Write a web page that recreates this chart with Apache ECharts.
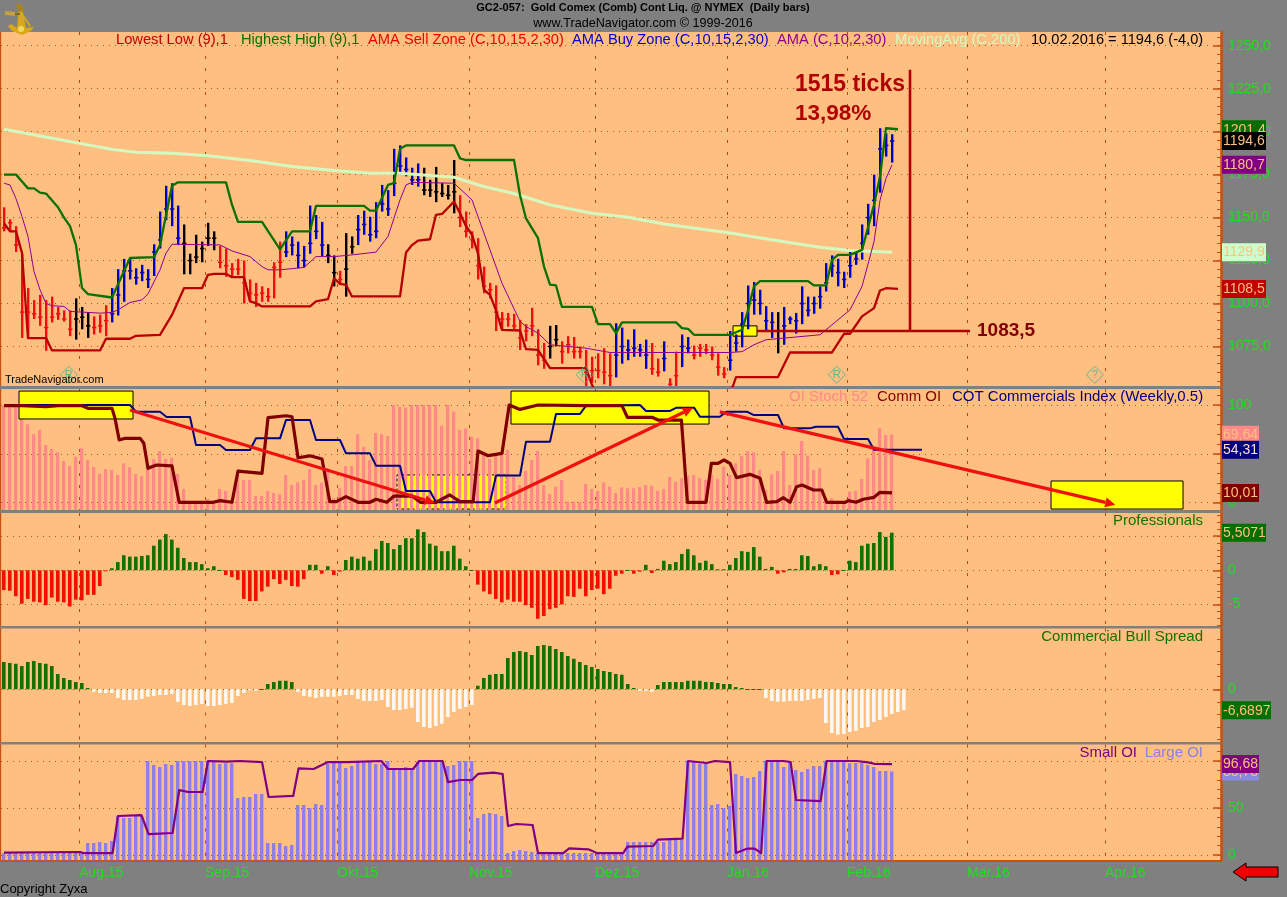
<!DOCTYPE html>
<html><head><meta charset="utf-8">
<style>html,body{margin:0;padding:0;background:#808080}#c{width:1287px;height:897px}</style>
<script src="https://cdn.jsdelivr.net/npm/echarts@6/dist/echarts.min.js"></script>
</head><body><div id="c"></div>
<script>
// ---------- values (index = trading-day number) ----------
const highs=[1156,1149,1145,1129,1109,1102,1105,1102,1104,1098,1096,1096,1103,1098,1095,1092.5,1093.5,1099,1109,1120,1126,1126,1120.5,1122.5,1120,1134.5,1153.5,1168.5,1170,1157,1146,1129,1140,1136,1147,1142,1133.5,1132,1123.5,1126,1125,1114,1112,1110,1109,1124,1136,1142,1139,1136,1133.5,1157,1151.5,1147.5,1134.5,1128,1119,1141,1139,1151.5,1154,1150.5,1159,1169,1166,1190,1192,1185,1179,1181.5,1179,1172,1179.5,1170,1169,1183.5,1163,1153.5,1142,1138,1121.5,1112,1110.5,1095,1094.5,1094,1090.5,1088,1097.5,1085,1077,1087,1087.5,1078,1081,1080.5,1075,1073,1069,1071,1074,1071,1088.5,1086,1079,1085,1076.5,1079,1077,1068,1078,1056.5,1072,1082,1080.5,1075.5,1076.5,1076.5,1075,1071,1063,1084,1082,1095,1110.5,1112.5,1108,1098.5,1095,1095,1098,1092.5,1094.5,1110,1104,1104,1110,1123.5,1128,1126,1118.5,1130,1130,1146,1158,1175,1202,1199,1198.5];
const lows=[1142,1142,1130,1080,1080,1091,1087,1072.5,1089,1090.5,1089.5,1081,1079,1085,1080,1082,1083,1081,1089,1093,1101,1114,1111,1113,1109,1116,1132,1148.5,1145,1134,1117,1117,1123.5,1124,1133.5,1131,1120.5,1115.5,1115,1116.5,1100,1101,1098,1101,1101,1103,1115,1127,1128,1120.5,1121,1129,1137.5,1127.5,1123.5,1110,1111,1104,1129,1134,1140,1136,1138,1153.5,1151,1162.5,1175,1174,1169,1168,1163,1162,1159,1162,1160.5,1152.5,1144.5,1138.5,1132,1114,1106,1103,1084,1084,1086.5,1085,1073,1078,1081,1064,1062,1068,1075,1065,1071,1068,1068,1052,1054,1056.5,1053,1052,1057,1065,1067,1069,1069,1062,1058.5,1057.5,1060.5,1052,1052,1063,1071,1067.5,1069,1070.5,1067,1058,1056.5,1061,1072,1074.5,1085,1093.5,1093.5,1084.5,1080,1071,1076,1088,1082.5,1088,1092.5,1094,1097,1107,1115.5,1110,1109,1115,1122.5,1125.5,1140,1145,1164.5,1185.5,1182];
const closes=[1144,1147,1134,1095,1095,1094,1092,1086,1092,1094,1091,1085,1091,1092,1087,1086,1087,1090,1094,1105,1119,1119,1115,1118,1114,1130,1137,1155,1155,1138,1135,1125,1127,1132,1138,1138,1124,1122,1120,1120,1112,1106,1105,1106,1104,1121,1124,1130,1134,1128,1125,1135,1142,1134,1128,1118,1114,1120,1133,1143,1146,1140,1142,1158,1155,1170,1180,1178,1172,1172,1166,1166,1165,1164,1163,1165,1150,1142,1137,1122,1110,1108,1095,1091,1091,1087,1080,1084,1087,1070,1067,1075,1079,1072,1076,1072,1072,1060,1061,1061,1060,1058,1070,1075,1073,1074,1073,1070,1062,1060,1068,1053,1058,1075,1074,1070,1074,1073,1070,1063,1059,1067,1077,1088,1100,1102,1100,1090,1089,1084,1087,1091,1090,1100,1096,1100,1104,1112,1122,1118,1114,1122,1126,1135,1150,1160,1190,1192,1194.6];
const zoneRuns=[['r',12],['k',3],['r',3],['b',12],['k',6],['r',11],['b',7],['k',2],['r',1],['k',2],['b',11],['k',6],['r',15],['k',2],['r',9],['b',6],['r',2],['b',1],['r',2],['b',2],['r',6],['b',8],['k',1],['b',19]];
const lowestLow=[[0,1146.7],[1,1142],[2,1142],[3,1129.3],[4,1079.9],[7,1079.9],[8,1072.7],[16,1072.7],[17,1079.5],[21,1079.5],[22,1081.2],[26,1081.8],[28,1093.4],[30,1108.9],[33,1108.9],[34,1116.7],[35,1117.3],[37,1117.3],[38,1115.3],[40,1115.3],[41,1101.2],[42,1100.2],[43,1098.3],[51,1098.3],[52,1101.2],[54,1102.5],[55,1114.7],[56,1111.4],[57,1110.9],[58,1104.1],[66,1104.1],[67,1129.7],[68,1134],[69,1136.6],[71,1137.4],[72,1151.6],[73,1152.1],[75,1159.3],[76,1152.5],[77,1145],[78,1140],[79,1129],[80,1108],[81,1105],[82,1096],[83,1084.7],[86,1084.3],[87,1073.5],[89,1073],[91,1062.4],[97,1062.4],[98,1052.7],[99,1045],[120,1045],[121.5,1052],[122,1057.2],[129,1057.2],[131,1071.5],[138,1071.5],[140,1082.4],[141,1082.4],[143,1092.5],[145,1097.3],[146,1107.6],[147,1108.9],[149,1108.5]];
const highestHigh=[[0,1175],[2,1175],[3,1171],[4,1167],[5,1167],[6,1164.5],[7,1164],[9,1156],[10,1150],[11,1145],[12,1134],[13,1109],[14,1105.5],[18,1103.5],[21,1126.5],[25,1127],[26,1134],[28,1168.5],[29,1170.5],[37,1170.5],[38,1157.5],[39,1147.5],[43,1147.5],[46,1131.5],[48,1142],[51,1142],[52,1156.8],[60,1156.8],[61,1154],[62,1154],[64,1169],[65,1170],[66,1190],[67,1192],[75,1192],[76,1184.5],[77,1183.5],[85,1183.5],[86,1163],[87,1149.5],[89,1138],[90,1121.5],[91,1111],[92,1110.5],[93,1098],[98,1098],[99,1088],[101,1088],[102,1082.8],[103,1089],[112,1089],[113,1085.7],[114,1085.3],[115,1081.8],[121,1081.8],[123,1084.7],[124,1096],[125,1110],[126,1113],[134,1113],[135,1110.5],[137,1110.5],[138,1125.4],[139,1128.3],[141,1128.3],[143,1131.2],[145,1157.4],[146,1173.9],[147,1202],[149,1201.4]];
const ama=[[0,1170],[1,1169],[2,1161],[3,1150.6],[4,1139],[5,1118.6],[6,1108],[7,1100],[8,1098.7],[10,1098.3],[11,1095.4],[16,1094.4],[18,1094.8],[19,1096.3],[21,1100.6],[23,1102.1],[24,1105.6],[26,1119.6],[27,1129.3],[28,1134.5],[36,1134.1],[38,1130.6],[41,1127.3],[43,1121.5],[44,1119.6],[46,1119.6],[50,1121],[52,1127.3],[55,1127.3],[58,1128.3],[62,1129.9],[64,1139],[66,1160.3],[67,1169],[68,1170.5],[75,1170],[78,1160.3],[81,1131.2],[83,1111.8],[86,1089.6],[87,1086.6],[89,1082.8],[91,1076],[97,1074],[101,1071.5],[121,1071.5],[123,1072],[125,1076],[127,1078.9],[136,1081.8],[137,1084.7],[141,1096.3],[143,1109.9],[145,1136],[146,1160],[147,1172.8],[148,1180.7]];
const movingAvg=[[0,1201.4],[18,1189.7],[22,1188],[28,1187.4],[34,1186],[41,1183.2],[48,1179.7],[56,1177.1],[61,1175.8],[66,1175.8],[75,1173.5],[80,1168],[85,1164],[91,1157.4],[98,1152.5],[104,1150.2],[110,1146.3],[121,1141],[130,1136],[136,1132.8],[141,1130.8],[148,1129.9]];
const oiStoch=[99.3,99.3,99.3,90.4,80.2,70,74.4,59,55,51.5,42.7,37.6,47,55.6,43.7,36.5,29.7,34.5,33.5,28.4,40.3,36.2,29.4,27.3,35.8,44.7,52.9,44.7,46,29.4,14,0.4,1.7,1,3.8,1,14,12,2.8,26.6,23.2,23.2,6.8,6.8,12,10,8.6,28.4,18.1,20.8,23.2,34.5,18.1,20.5,35.2,4.5,14.7,37.6,37.6,70.3,57.3,43.7,71.3,70,68.3,100,98,97.3,100,100,100,100,100,78.8,100,93.2,74.4,76.1,67.6,65.9,50.5,44.7,50.5,48.8,53.9,26.6,18.1,32.4,43.7,52.9,18.1,8.9,16.4,23.2,1,1,1,19.1,14,12,20.8,16.4,10,15.7,14.7,14.7,16,18.1,17.4,12,14,26.3,21.5,25,27.7,28.4,25,23.2,28.4,24.3,36.9,28.4,40.3,48.1,52.9,51.5,33.5,13,29,32.4,52.9,18.1,49.5,63.2,48.1,33.5,35.2,4.5,4.5,1,1,11.3,12,24.3,45.4,57.4,76.1,69.3,69.64];
const commOI=[[0,99.3],[3,99.3],[7,98.3],[9,99.3],[13,99.3],[14,96.6],[18,96.6],[18.5,86.3],[19.2,64.2],[20.2,65.9],[22.7,65.9],[23.3,60.8],[24,35.2],[25.4,38.6],[28,37.6],[29.2,0.4],[34.9,0.4],[36,2.1],[38,0.4],[39,32.4],[43,30],[44,87],[47,89],[48,88],[49,46],[51,48],[53,44.7],[54.3,1],[55.4,1],[57,6.2],[59,0.4],[61,0.4],[62,3.5],[63.8,0.4],[65,6.8],[68,6.8],[69.4,0.4],[72,0.4],[74.3,7.9],[76,1],[78.2,1],[79,52.9],[80.7,48.1],[83,50.5],[84.2,100],[86,95.5],[89,100],[96.8,99.3],[103,99.3],[103.9,87.4],[108,87.4],[109,84.6],[112.9,84.6],[113.9,0.4],[117,0.4],[117.9,40.3],[119,40.3],[120,43.7],[121,40.3],[122.1,25.6],[124.3,29],[126,25],[127.1,0.4],[128.8,1],[129.9,5.1],[131,0.4],[132.1,16.4],[133,18.1],[134.9,13],[136.3,13],[137.1,0.4],[140.2,0.4],[140.7,2.1],[142,0.4],[143.2,3.5],[145,5.5],[146,10.6],[148,10.01]];
const cotIndex=[[0,100],[21,100],[22,93.2],[26,93.2],[27.1,87.7],[31,87.7],[32,59],[36,59],[37,54],[41,54],[42,65.9],[46,65.9],[47,84.6],[51,84.6],[52,64.2],[56,64.2],[57,50.5],[61,50.5],[62,37.9],[66,37.9],[67,12],[71,12],[72,0.4],[81,0.4],[82,27.7],[86,27.7],[87,62.5],[91,62.5],[92,90.8],[96,90.8],[97,99.3],[106,100],[107,93.9],[111,93.9],[112.1,97.3],[115,97.3],[116,88],[119.3,88],[120.4,93.2],[123.8,93.2],[124.9,89.8],[129,89.8],[130,76.1],[134.3,76.1],[135.3,77.8],[139,77.8],[140,65.2],[144,65.2],[145,54.31],[153,54.31]];
const professionals=[-2.9,-3,-3.8,-4.9,-4.2,-4.6,-4.7,-5.1,-4,-4.6,-4.7,-5.3,-4.3,-4.4,-3.6,-3.6,-2.3,-0.05,0.3,1.2,2.2,2,2,2.1,2.2,3.6,4.5,5.3,4.5,3.3,1.8,1.2,1.2,0.9,0.3,0.6,0.05,-0.7,-1,-1.4,-4.2,-4.5,-4.5,-3.1,-2.4,-1.3,-2,-1.4,-2.3,-2.4,-1.3,0.8,0.8,-0.5,0.6,-0.7,-0.2,1.5,2,1.7,2,1.4,3.1,4.3,4,3.1,3.7,4.7,4.7,6,5.6,3.9,3.6,2.8,2.8,3.6,1.7,0.6,0.05,-2.1,-3.1,-3.5,-4.2,-4.7,-4.3,-4.6,-4.6,-5.1,-5.5,-7.1,-6.7,-5.7,-5.5,-5,-3.8,-3.9,-2.7,-3.8,-2.9,-2.7,-3.5,-2.7,-0.8,-0.5,0.05,-0.5,-0.2,0.8,-0.4,0.2,1.4,0.9,1.2,2.4,3.1,2.2,1.1,1.4,0.9,0.15,0.15,0.8,1.8,2.8,2.7,3.4,2,0.2,0.5,-0.5,-0.3,0.2,0.2,2.2,2.1,0.6,0.9,0.6,-0.7,-0.6,0.05,1.4,1.2,3.6,3.9,4,5.6,4.9,5.5071];
const bullSpread=[8.7,8.4,8.1,7.4,8.7,9,8.4,8.1,7.4,4.9,3.6,3,2.3,2,0.4,-0.8,-1.2,-1.2,-1.2,-2.8,-3.4,-3.4,-3.4,-3.1,-2.4,-2.1,-1.8,-1.8,-1.5,-4,-5,-5.3,-5,-4.7,-5.3,-5.3,-5,-4.7,-4.4,-2.1,-1.2,-0.2,-0.5,0.1,1.7,2.3,2.7,2.7,2.3,-0.8,-2.1,-2.4,-2.8,-2.4,-2.4,-2.4,-2.1,-1.8,-1.8,-3.1,-3.7,-3.7,-3.7,-3.4,-5.6,-6.6,-6.6,-6.3,-5.9,-10.4,-12,-12.3,-11.7,-11,-8.8,-7.2,-6.3,-5.6,-5,1.1,3.6,4.6,4.9,4.9,10,11.9,12.2,11.9,10.9,13.8,14.1,13.8,12.8,11.9,10.6,9.7,8.7,7.7,7.1,6.5,5.8,5.5,4.9,4.6,1.7,0.4,-0.5,-0.5,-0.8,1.4,2.3,2.3,2.3,2.3,2.7,2.7,2.7,2.3,2.3,2,1.7,1.7,0.7,0.4,0.1,0.1,0.1,-2.8,-3.7,-4,-4,-3.7,-3.7,-3.7,-3.4,-3.1,-2.8,-10.7,-13.9,-14.5,-14.2,-13.6,-13.3,-12.3,-12,-10.4,-9.8,-8.8,-7.9,-7.2,-6.6897];
const largeOI=[1.8,1.8,1.8,1.8,1.8,1.8,1.8,1.8,1.8,1.8,4.3,4.3,3.5,1.8,12.8,12.8,13.8,12.8,14.9,41.5,39.4,39.4,41.5,41.5,100,95.7,93.6,96.8,95.7,100,100,100,100,100,100,98.9,96.8,97.5,97.5,60.6,61.7,61.7,64.9,64.9,12.8,12.8,12.8,9.6,10.6,53.2,53.2,50,54.3,53.2,96.8,98.9,98.9,92.6,94.7,98.9,98.9,98.9,96.8,96.8,100,91.5,91.5,93.6,91.5,98.9,100,98.9,100,98.9,94.7,95.7,100,100,100,39.4,43.6,44.7,43.6,41.5,2.1,4.3,5.3,4.3,3.2,2.1,1.8,1.8,1.8,1.8,2.1,2.1,2.1,2.1,2.1,2.1,2.1,2.1,2.1,2.1,13.8,13.8,13.8,13.8,13.8,13.8,13.8,16,16,16,100,98.9,96.8,98.9,53.2,54.3,50,52.1,86.2,84,81.9,83,89.4,100,100,98.9,93.6,98.9,90.4,88.3,91.5,94.7,94.7,100,98.9,98.9,98.9,97.5,97.9,97.9,95.7,93.6,89.4,89.4,88.78];
const smallOI=[[0,2.5],[12.7,3.2],[13.2,2.1],[18.1,2.1],[19,41.5],[22.9,42.5],[24.1,22.3],[28.1,23.4],[29.2,69],[30.7,67],[33.1,67],[34,100],[37.1,99.3],[39.3,100],[43,98.9],[44.1,61.7],[48.2,62.8],[49.1,92.2],[51.6,91.5],[54,98.9],[57.1,98.9],[62.9,100],[64,91.5],[68.2,91.5],[69.2,100],[73.1,100],[74,77.6],[76,79.8],[78,79.8],[79,86.2],[81.6,87.6],[83.1,86.2],[84,30.9],[85.4,33],[88.1,31.9],[89,2.1],[93.2,2.1],[94.2,7.1],[97.4,6],[98.8,2.1],[103.2,2.1],[103.9,8.9],[108.2,9.6],[109,16.3],[113.1,17.4],[114,100],[117.1,97.9],[118.5,100],[121,98.9],[122,2.1],[123.8,6.7],[125.1,6.7],[126.2,2.1],[127.1,100],[129.9,100],[131.1,98.9],[132,58.5],[136.1,57.4],[137.1,100],[142.1,100],[144,98.6],[145.2,96.8],[148,96.68]];
const monthStarts=[12.5,33.5,55.5,77.5,98.5,120.5,140.5,160.5,183.5];
const monthLabels=['Aug.15','Sep.15','Okt.15','Nov.15','Dez.15','Jän.16','Feb.16','Mär.16','Apr.16'];
const priceTicks=[1250,1225,1200,1175,1150,1125,1100,1075];
const stochTicks=[100,50,0], proTicks=[5,0,-5], bullTicks=[0], oiTicks=[100,50,0];
// annotations, in chart units [x0,y0,x1,y1]
const priceBox=[[121.5,1087,125.5,1081]];
const stochBoxesOver=[[2.5,114.3,21.5,85.7],[84.5,114.3,117.5,80.5],[174.5,22.2,196.5,-6.5]];
const stochBoxUnder=[[65.5,28.4,83.7,-6.5]];
const priceRefLines=[[125.5,1084,161,1084],[151,1084,151,1236]];
const stochArrows=[[21,94.9,71.8,-0.3],[81.8,-0.3,114.8,97],[119.3,93,185.2,-2]];
const signalDiamonds=[[10.8,1058.5,'R'],[96.8,1058.5,'R'],[138.8,1058.5,'R'],[181.8,1058.5,'?']];
const priceTags=[[1201.4,'1201,4','#006f00','#ffc080'],[1194.6,'1194,6','#000000','#ffc080'],[1180.7,'1180,7','#800080','#ffc080'],[1129.9,'1129,9','#ccffcc','#ffc080'],[1108.5,'1108,5','#c00000','#ffc080']];
const stochTags=[[69.64,'69,64','#ff8888','#ffc080'],[54.31,'54,31','#000080','#ffe0c0'],[10.01,'10,01','#800000','#ffc080']];
const proTags=[[5.5071,'5,5071','#007000','#ffc080']];
const bullTags=[[-6.6897,'-6,6897','#007000','#ffc080']];
const oiTags=[[88.78,'88,78','#8888e0','#ffc080'],[96.68,'96,68','#800080','#ffc080']];

// ---------- layout ----------
const GOLD='#d8a818',ORANGE='#ffbf80',AXIS='#c85010',LABEL='#22dd22';
const panels=[
 {top:32,h:354,min:1052,max:1258,ticks:priceTicks,step:5,fmt:v=>v.toFixed(1).replace('.',',')},
 {top:389,h:121,min:-7.5,max:116.4,ticks:stochTicks,step:10,fmt:String},
 {top:513,h:113,min:-8.16,max:8.39,ticks:proTicks,step:1,fmt:String},
 {top:628.5,h:113.5,min:-16.78,max:19.36,ticks:bullTicks,step:4,fmt:String},
 {top:744.5,h:116,min:-5.85,max:117.55,ticks:oiTicks,step:10,fmt:String}];
const XMAX=202.83;
const zones=[];zoneRuns.forEach(([c,n])=>{for(let k=0;k<n;k++)zones.push(c)});
const ZC={r:'#ee1010',b:'#0000c0',k:'#000000'};
const grids=panels.map(p=>({left:1,width:1220,top:p.top,height:p.h,show:true,backgroundColor:ORANGE,borderWidth:0,containLabel:false}));
const xAxes=panels.map((p,k)=>({type:'value',gridIndex:k,min:-0.5,max:XMAX,
  axisLine:{show:k===4,onZero:false,lineStyle:{color:AXIS,width:2}},
  axisTick:{show:false,customValues:monthStarts},
  axisLabel:{show:k===4,customValues:monthStarts,color:LABEL,fontFamily:'Liberation Sans',fontSize:14,align:'left',margin:6,
     formatter:v=>monthLabels[monthStarts.indexOf(v)]||''},
  splitLine:{show:true,lineStyle:{color:'#b84a10',type:[3,9],width:1}}}));
const yAxes=[];
panels.forEach((p,k)=>{
  yAxes.push({type:'value',gridIndex:k,position:'right',min:p.min,max:p.max,
    axisLine:{show:true,onZero:false,lineStyle:{color:AXIS,width:2.5}},
    axisTick:{show:true,inside:true,length:8,customValues:p.ticks,lineStyle:{color:AXIS,width:1.5}},
    axisLabel:{show:true,inside:false,customValues:p.ticks,color:LABEL,fontFamily:'Liberation Sans',fontSize:14,margin:7,formatter:p.fmt,hideOverlap:false},
    splitLine:{show:true,lineStyle:{color:'#9a5a20',type:[1,5],width:1}}});
});
panels.forEach((p,k)=>{
  const minor=[];const s=p.step;
  for(let v=Math.ceil(p.min/s)*s;v<=p.max;v+=s)minor.push(+v.toFixed(4));
  yAxes.push({type:'value',gridIndex:k,position:'right',min:p.min,max:p.max,
    axisLine:{show:false,onZero:false},axisLabel:{show:false},splitLine:{show:false},
    axisTick:{show:true,inside:true,length:4,customValues:minor,lineStyle:{color:AXIS,width:1}}});
});

// ---------- series helpers ----------
function line(k,data,color,width,z){return {type:'line',xAxisIndex:k,yAxisIndex:k,data,symbol:'none',showSymbol:false,animation:false,silent:true,z:z||6,lineStyle:{color,width,join:'round'}}}
function barsFromBottom(k,values,color,w){return {type:'custom',xAxisIndex:k,yAxisIndex:k,z:3,clip:true,animation:false,silent:true,
  data:values.map((v,i)=>[i,v]),
  renderItem:(params,api)=>{const i=api.value(0),v=api.value(1);const a=api.coord([i,v]);const yb=params.coordSys.y+params.coordSys.height;
    return {type:'rect',shape:{x:Math.round(a[0]-w/2),y:a[1],width:w,height:yb-a[1]},style:{fill:color}}}}}
function barsFromZero(k,values,up,down){return {type:'custom',xAxisIndex:k,yAxisIndex:k,z:3,clip:true,animation:false,silent:true,
  data:values.map((v,i)=>[i,v]),
  renderItem:(params,api)=>{const i=api.value(0),v=api.value(1);const a=api.coord([i,v]),b=api.coord([i,0]);
    const h=Math.max(1,Math.abs(a[1]-b[1]));
    return {type:'rect',shape:{x:Math.round(a[0]-2),y:Math.min(a[1],b[1]),width:3.6,height:h},style:{fill:v>=0?up:down}}}}}
function boxes(k,data,dash,z){return {type:'custom',xAxisIndex:k,yAxisIndex:k,z:z,clip:false,animation:false,silent:true,data,
  encode:{x:[0,2],y:[1,3]},
  renderItem:(params,api)=>{const a=api.coord([api.value(0),api.value(1)]),b=api.coord([api.value(2),api.value(3)]);
    return {type:'rect',shape:{x:a[0],y:a[1],width:b[0]-a[0],height:b[1]-a[1]},style:{fill:'#ffff00',stroke:'#000000',lineWidth:1,lineDash:dash?[3,2]:null}}}}}
function segments(k,data,color,width,z){return {type:'custom',xAxisIndex:k,yAxisIndex:k,z,clip:false,animation:false,silent:true,data,
  encode:{x:[0,2],y:[1,3]},
  renderItem:(params,api)=>{const a=api.coord([api.value(0),api.value(1)]),b=api.coord([api.value(2),api.value(3)]);
    return {type:'line',shape:{x1:a[0],y1:a[1],x2:b[0],y2:b[1]},style:{stroke:color,lineWidth:width}}}}}
function arrows(k,data,color,z){return {type:'custom',xAxisIndex:k,yAxisIndex:k,z,clip:false,animation:false,silent:true,data,
  encode:{x:[0,2],y:[1,3]},
  renderItem:(params,api)=>{const a=api.coord([api.value(0),api.value(1)]),b=api.coord([api.value(2),api.value(3)]);
    const t=Math.atan2(b[1]-a[1],b[0]-a[0]),L=10,W=5;
    const bx=b[0]-L*Math.cos(t),by=b[1]-L*Math.sin(t);
    return {type:'group',children:[
      {type:'line',shape:{x1:a[0],y1:a[1],x2:bx,y2:by},style:{stroke:color,lineWidth:3.2}},
      {type:'polygon',shape:{points:[[b[0],b[1]],[bx-W*Math.sin(t),by+W*Math.cos(t)],[bx+W*Math.sin(t),by-W*Math.cos(t)]]},style:{fill:color}}]}}}}
function tags(k,list){return {type:'custom',xAxisIndex:k,yAxisIndex:k,z:20,clip:false,animation:false,silent:true,
  data:list.map(t=>[XMAX,t[0]]),
  renderItem:(params,api)=>{const t=list[params.dataIndex];const c=api.coord([XMAX,t[0]]);
    const n=t[1].length,w=n===5?37:(n===6?44:49),x=c[0]+1,y=c[1]-9;
    return {type:'group',children:[
      {type:'rect',shape:{x,y,width:w,height:18},style:{fill:t[2]}},
      {type:'text',style:{x:x+1,y:y+9.5,text:t[1],fill:t[3],font:'14px "Liberation Sans"',textVerticalAlign:'middle'}}]}}}}
const hlc={type:'custom',xAxisIndex:0,yAxisIndex:0,z:4,clip:true,animation:false,silent:true,
  data:highs.map((h,i)=>[i,h,lows[i],closes[i]]),encode:{x:0,y:[1,2]},
  renderItem:(params,api)=>{const i=api.value(0);const col=ZC[zones[i]];
    const h=api.coord([i,api.value(1)]),l=api.coord([i,api.value(2)]),c=api.coord([i,api.value(3)]);
    const x=Math.round(h[0]);
    return {type:'group',children:[
      {type:'rect',shape:{x:x-1,y:h[1],width:2.4,height:l[1]-h[1]},style:{fill:col}},
      {type:'rect',shape:{x:x-2,y:c[1]-0.75,width:4.4,height:1.5},style:{fill:col}}]}}};
const diamonds={type:'scatter',xAxisIndex:0,yAxisIndex:0,z:7,animation:false,silent:true,symbol:'diamond',symbolSize:[17,17],
  data:signalDiamonds.map(d=>({value:[d[0],d[1]],label:{formatter:d[2]}})),
  itemStyle:{color:'rgba(0,0,0,0)',borderColor:'#3fae9c',borderWidth:1},
  label:{show:true,position:'inside',color:'#3fae9c',fontFamily:'Liberation Sans',fontSize:11}};

const series=[
  boxes(0,priceBox,false,3),hlc,
  line(0,movingAvg,'#d4fac0',3,5),line(0,ama,'#900090',1,6),
  line(0,lowestLow,'#b80000',2.3,6),line(0,highestHigh,'#0a7000',2.3,6),
  segments(0,priceRefLines,'#b00000',2.6,8),diamonds,tags(0,priceTags),
  boxes(1,stochBoxUnder,true,2),barsFromBottom(1,oiStoch,'#ff8888',3.2),boxes(1,stochBoxesOver,false,4),
  line(1,cotIndex,'#000080',2,6),line(1,commOI,'#800000',3.2,7),arrows(1,stochArrows,'#f01010',9),tags(1,stochTags),
  barsFromZero(2,professionals,'#147000','#f01000'),tags(2,proTags),
  barsFromZero(3,bullSpread,'#147000','#fff8f0'),tags(3,bullTags),
  barsFromBottom(4,largeOI,'#8a80e6',3.4),line(4,smallOI,'#800080',2.2,6),tags(4,oiTags)
];

// ---------- text and furniture ----------
const F='"Liberation Sans"';
function txt(x,y,text,fill,size,opts){opts=opts||{};return {type:'text',z:30,silent:true,style:{x,y,text,fill,font:(opts.bold?'bold ':'')+size+'px '+F,textAlign:opts.align||'left',textVerticalAlign:'middle'}}}
const graphics=[
  txt(643,8,'GC2-057:  Gold Comex (Comb) Cont Liq. @ NYMEX  (Daily bars)','#000',11,{bold:true,align:'center'}),
  txt(643,24,'www.TradeNavigator.com © 1999-2016','#000',12.6,{align:'center'}),
  txt(116,40,'Lowest Low (9),1','#c00000',14.7),
  txt(241,40,'Highest High (9),1','#0a7000',14.7),
  txt(368,40,'AMA Sell Zone (C,10,15,2,30)','#f00000',14.7),
  txt(572,40,'AMA Buy Zone (C,10,15,2,30)','#0000d0',14.7),
  txt(777,40,'AMA (C,10,2,30)','#900090',14.7),
  txt(895,40,'MovingAvg (C,200)','#d4fac0',14.7),
  txt(1031,40,'10.02.2016 = 1194,6 (-4,0)','#000',14.6),
  txt(795,85,'1515 ticks','#b00000',23,{bold:true}),
  txt(795,114,'13,98%','#b00000',22.5,{bold:true}),
  txt(977,331,'1083,5','#800000',19,{bold:true}),
  txt(5,380,'TradeNavigator.com','#000',11),
  txt(789,397,'OI Stoch 52','#ff8888',15),
  txt(877,397,'Comm OI','#800000',15),
  txt(952,397,'COT Commercials Index (Weekly,0.5)','#000080',15),
  txt(1203,521,'Professionals','#147000',15,{align:'right'}),
  txt(1203,637,'Commercial Bull Spread','#147000',15,{align:'right'}),
  txt(1137,753,'Small OI','#800080',15,{align:'right'}),
  txt(1203,753,'Large OI','#8a80e6',15,{align:'right'}),
  txt(0,889,'Copyright Zyxa','#000',13),
  {type:'polygon',z:30,silent:true,shape:{points:[[1233,872],[1246,863],[1246,867],[1278,867],[1278,877],[1246,877],[1246,881]]},style:{fill:'#f00000',stroke:'#000',lineWidth:1}},
  // sextant emblem
  {type:'group',z:30,silent:true,children:[
    {type:'polygon',shape:{points:[[19,8],[22,8],[26,28],[33,27],[35,25],[31,31],[22,35],[12,31],[8,26],[11,24],[17,28]]},style:{fill:GOLD}},
    {type:'polygon',shape:{points:[[16,4],[21,4],[24,11],[19,12]]},style:{fill:'#a8841c'}},
    {type:'polygon',shape:{points:[[5,11],[15,12],[15,16],[5,15]]},style:{fill:'#c8a040'}},
    {type:'line',shape:{x1:15,y1:14,x2:20,y2:14},style:{stroke:'#8a6a10',lineWidth:2}},
    {type:'line',shape:{x1:22,y1:14,x2:30,y2:26},style:{stroke:GOLD,lineWidth:2}},
    {type:'circle',shape:{cx:21,cy:29,r:3},style:{fill:'#f0d868'}}]}
];
panels.forEach(p=>graphics.push({type:'rect',z:30,silent:true,shape:{x:0,y:p.top,width:1.2,height:p.h},style:{fill:AXIS}}));

const chart=echarts.init(document.getElementById('c'),null,{renderer:'canvas',width:1287,height:897});
chart.setOption({animation:false,backgroundColor:'#808080',grid:grids,xAxis:xAxes,yAxis:yAxes,series,graphic:{elements:graphics},tooltip:{show:false}});
</script></body></html>
